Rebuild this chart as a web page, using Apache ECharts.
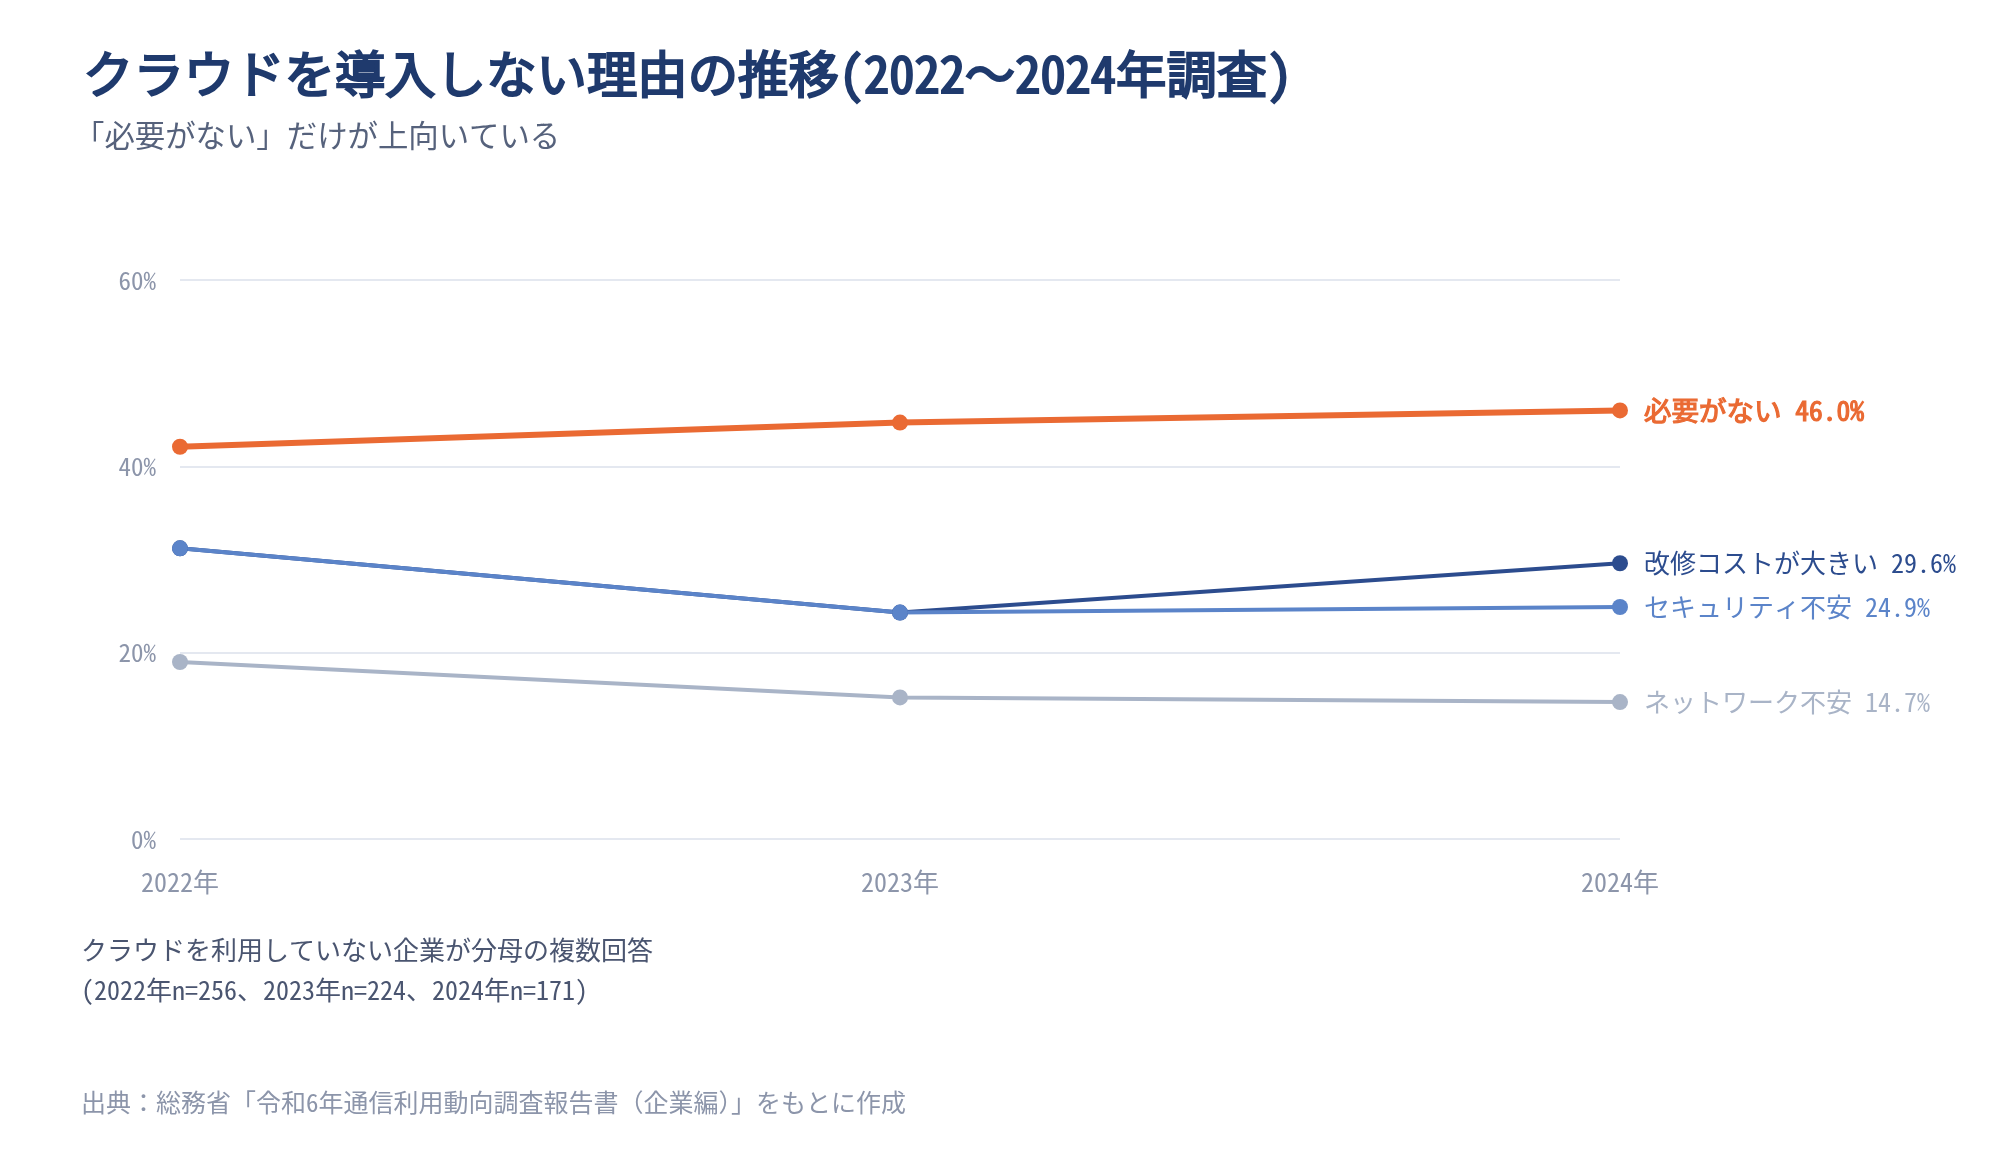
<!DOCTYPE html>
<html style="height: 100%" lang="ja">
<head>
<meta charset="utf-8">
<title>クラウドを導入しない理由の推移</title>
<script src="https://cdn.jsdelivr.net/npm/echarts@6/dist/echarts.min.js"></script>
</head>
<body style="height: 100%; margin: 0; background: #fff">
<div id="container" style="width: 2000px; height: 1160px"></div>
<script type="text/javascript">
// データ
var years = ['2022年', '2023年', '2024年'];
var seriesNames = ['必要がない', '改修コストが大きい', 'セキュリティ不安', 'ネットワーク不安'];
var fuyou = [42.1, 44.7, 46.0];
var kaishuCost = [31.2, 24.3, 29.6];
var security = [31.2, 24.3, 24.9];
var network = [19.0, 15.2, 14.7];
var yTicks = [0, 20, 40, 60];

// 太字の等幅フォントが無いので、縁取りで太く見せる
var FONT = "'Noto Sans Mono CJK JP', 'Noto Sans CJK JP', monospace";
var colors = ['#EA6A33', '#2C4C8E', '#5B84C9', '#A9B4C7'];

var myChart = echarts.init(document.getElementById('container'));

function makeSeries(name, data, color, width, size, bold) {
    return {
        name: name,
        type: 'line',
        data: data,
        symbol: 'circle',
        symbolSize: size,
        lineStyle: { color: color, width: width },
        itemStyle: { color: color },
        emphasis: { disabled: true },
        endLabel: {
            show: true,
            distance: 24,
            color: color,
            fontFamily: FONT,
            fontSize: bold ? 27.5 : 26,
            textBorderColor: bold ? color : 'transparent',
            textBorderWidth: bold ? 1.2 : 0,
            formatter: function (p) {
                return name + ' ' + p.value.toFixed(1) + '%';
            }
        }
    };
}

var option = {
    animation: false,
    textStyle: { fontFamily: FONT },
    title: [
        {
            text: 'クラウドを導入しない理由の推移(2022～2024年調査)',
            left: 78, top: 42,
            textStyle: {
                fontFamily: FONT, fontSize: 50.4, fontWeight: 'normal', color: '#1F3A6D', lineHeight: 54,
                textBorderColor: '#1F3A6D', textBorderWidth: 2.2
            }
        },
        {
            text: '「必要がない」だけが上向いている',
            left: 69, top: 113,
            textStyle: { fontFamily: FONT, fontSize: 30.4, fontWeight: 'normal', color: '#56627C', lineHeight: 34 }
        },
        {
            text: 'クラウドを利用していない企業が分母の複数回答',
            left: 76, top: 930,
            textStyle: { fontFamily: FONT, fontSize: 26, fontWeight: 'normal', color: '#4A5570', lineHeight: 30 }
        },
        {
            text: '(2022年n=256、2023年n=224、2024年n=171)',
            left: 76, top: 970,
            textStyle: { fontFamily: FONT, fontSize: 26, fontWeight: 'normal', color: '#4A5570', lineHeight: 30 }
        },
        {
            text: '出典：総務省「令和6年通信利用動向調査報告書（企業編）」をもとに作成',
            left: 76, top: 1082,
            textStyle: { fontFamily: FONT, fontSize: 25, fontWeight: 'normal', color: '#8C95AA', lineHeight: 30 }
        }
    ],
    grid: { left: 180, right: 380, top: 280, bottom: 321, containLabel: false },
    xAxis: {
        type: 'category',
        data: years,
        boundaryGap: false,
        axisLine: { show: false },
        axisTick: { show: false },
        axisLabel: { color: '#8C95AA', fontFamily: FONT, fontSize: 26, margin: 30 }
    },
    yAxis: {
        type: 'value',
        min: yTicks[0],
        max: yTicks[yTicks.length - 1],
        interval: 20,
        axisLine: { show: false },
        axisTick: { show: false },
        splitLine: { lineStyle: { color: '#E4E8F0', width: 2 } },
        axisLabel: {
            color: '#8C95AA', fontFamily: FONT, fontSize: 25, margin: 24,
            formatter: '{value}%'
        }
    },
    series: [
        makeSeries(seriesNames[0], fuyou, colors[0], 6, 16, true),
        makeSeries(seriesNames[1], kaishuCost, colors[1], 4, 16, false),
        makeSeries(seriesNames[2], security, colors[2], 4, 16, false),
        makeSeries(seriesNames[3], network, colors[3], 4, 16, false)
    ]
};

myChart.setOption(option);
</script>
</body>
</html>
